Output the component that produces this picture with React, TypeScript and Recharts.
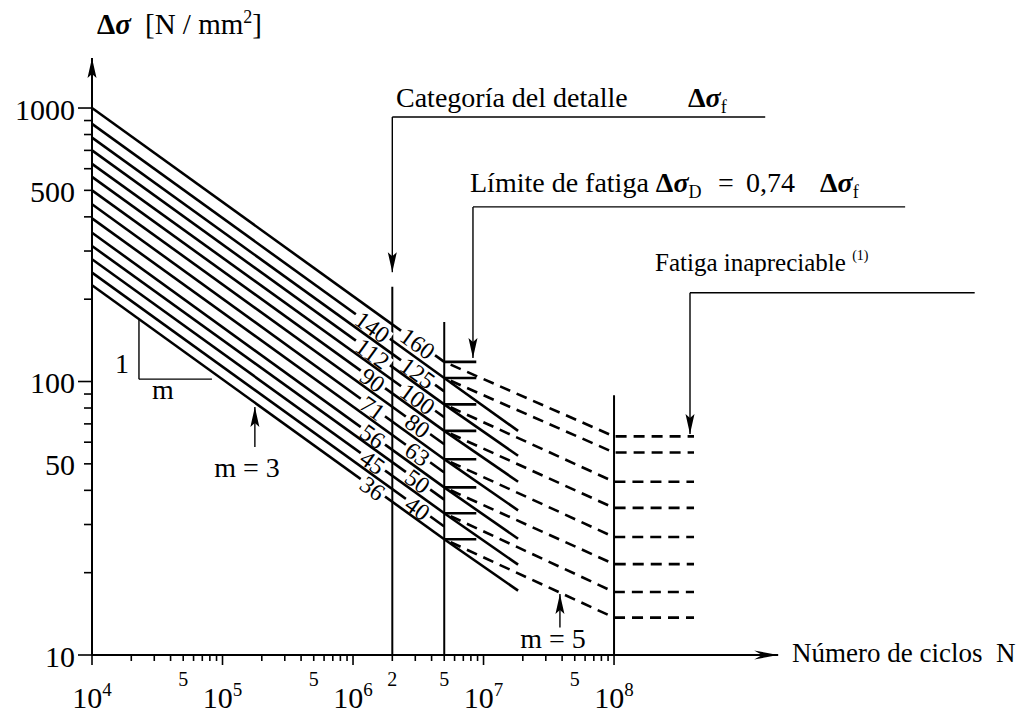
import React from 'react';
import { ComposedChart, Line, XAxis, YAxis, ReferenceLine, ReferenceDot } from 'recharts';

// ---------------- data ----------------
// detail categories (Δσ at 2·10^6 cycles)
const categories = [160, 140, 125, 112, 100, 90, 80, 71, 63, 56, 50, 45, 40, 36];
// stress range of each curve at N = 1e4
const stressAtStart = [1000, 875, 780, 700, 625, 560, 500, 445, 395, 350, 313, 280, 250, 225];
// stress range of each curve at N = 5e6 (knee)
const stressAtKnee = [118, 103, 92, 82.5, 74, 66, 59, 52, 46.5, 41, 37, 33, 29.5, 26.5];
// side of the 2e6 line where the category number is written
const labelSide = ['R', 'L', 'R', 'L', 'R', 'L', 'R', 'L', 'R', 'L', 'R', 'L', 'R', 'L'];

// curves that carry a fatigue limit step + m = 5 branch
const limitCategories = [160, 140, 112, 90, 71, 56, 45, 36];
const limitStress = [118, 103, 82.5, 66, 52, 41, 33, 26.5];
const cutoffStress = [63, 55, 43, 34.5, 27, 21.5, 17, 13.7]; // at N = 1e8

// curves continued with m = 3 past the knee
const extendedCategories = [140, 112, 90, 71, 56, 45, 36];
const extendedStart = [103, 82.5, 66, 52, 41, 33, 26.5];
const extendedEndStress = [66, 53.5, 43, 33.8, 26.6, 21.4, 17.2];

const N_START = 1e4;
const N_KNEE = 5e6;
const N_CUT = 1e8;
const N_TAIL = 4.1e8;
const N_EXT_END = 1.84e7;
const N_STEP_END = 8.8e6;
const N_LABEL_L = 1.42e6;
const N_LABEL_R = 3.15e6;

// vertical reference lines: N and top stress
const verticalN = [2e6, 5e6, 1e8];
const verticalTop = [222, 165, 89];

// axes
const X_MIN = 1e4;
const X_MAX = 1.29e11;
const Y_MIN = 10;
const Y_MAX = 2483;
const xDecades = [4, 5, 6, 7];
const xTicks: number[] = [];
xDecades.forEach((k) => { for (let m = 1; m <= 9; m++) xTicks.push(m * 10 ** k); });
xTicks.push(1e8);
const xMajor = [1e4, 1e5, 1e6, 1e7, 1e8];
const xMajorExp = ['4', '5', '6', '7', '8'];
const xMinorLabelled = [5e4, 5e5, 2e6, 5e6, 5e7];
const xMinorText = ['5', '5', '2', '5', '5'];
const yTicks: number[] = [];
[1, 2].forEach((k) => { for (let m = 1; m <= 9; m++) yTicks.push(m * 10 ** k); });
yTicks.push(1000);
const yLabelled = [10, 50, 100, 500, 1000];
const yMajor = [10, 100, 1000];

// annotations (data coordinates)
const AXIS_Y_TIP = 1524;
const AXIS_X_TIP = 1.81e9;
const detailLeader = { from: 1.44e9, at: 2e6, level: 927, tip: 251 };
const limitLeader = { from: 1.7e10, at: 8.3e6, level: 435, tip: 122 };
const negligibleLeader = { from: 5.8e10, at: 3.82e8, level: 211, tip: 64.3 };
const slopeTri = { n0: 2.29e4, n1: 8.3e4, base: 102 };
const m3Arrow = { n: 1.77e5, tail: 57.6, tip: 80.7 };
const m5Arrow = { n: 3.85e7, tail: 12.6, tip: 16.7 };

// ---------------- styles ----------------
const SERIF = "'Liberation Serif','Times New Roman',serif";
const AXIS_PX_X = 92;
const AXIS_PX_Y = 655;
const LW = 2.6;

const lineValueAt = (i: number, n: number) => {
  const l0 = Math.log10(stressAtStart[i]);
  const l1 = Math.log10(stressAtKnee[i]);
  const t = (Math.log10(n) - Math.log10(N_START)) / (Math.log10(N_KNEE) - Math.log10(N_START));
  return 10 ** (l0 + (l1 - l0) * t);
};

const arrowShape = (dir: 'up' | 'down' | 'right') => (p: any) => {
  const { cx, cy } = p;
  const L = 20, W = 4.5, notch = 4;
  let pts: number[][];
  if (dir === 'down') pts = [[cx, cy], [cx - W, cy - L], [cx, cy - L + notch], [cx + W, cy - L]];
  else if (dir === 'up') pts = [[cx, cy], [cx - W, cy + L], [cx, cy + L - notch], [cx + W, cy + L]];
  else pts = [[cx, cy], [cx - L - 4, cy - W], [cx - L + notch, cy], [cx - L - 4, cy + W]];
  return <polygon points={pts.map((q) => q.join(',')).join(' ')} fill="#000" />;
};

const labelShape = (text: number) => (p: any) => {
  const { cx, cy } = p;
  const w = String(text).length * 12 + 6;
  return (
    <g transform={`translate(${cx},${cy}) rotate(35.8)`}>
      <rect x={-w / 2} y={-6.5} width={w} height={13} fill="#fff" />
      <text x={0} y={1} textAnchor="middle" dominantBaseline="central" fontSize={24} fontFamily={SERIF} fill="#000">
        {text}
      </text>
    </g>
  );
};

const XTick = (props: any) => {
  const { x, payload } = props;
  const v = payload.value;
  const mi = xMajor.indexOf(v);
  const li = xMinorLabelled.indexOf(v);
  return (
    <g>
      <line x1={x} x2={x} y1={AXIS_PX_Y} y2={AXIS_PX_Y + (mi >= 0 ? 10 : 6)} stroke="#000" strokeWidth={1.6} />
      {mi >= 0 && (
        <text x={x} y={708} textAnchor="middle" fontSize={30} fontFamily={SERIF} fill="#000">
          10<tspan dy={-12} fontSize={19}>{xMajorExp[mi]}</tspan>
        </text>
      )}
      {li >= 0 && (
        <text x={x} y={686} textAnchor="middle" fontSize={20} fontFamily={SERIF} fill="#000">
          {xMinorText[li]}
        </text>
      )}
    </g>
  );
};

const YTick = (props: any) => {
  const { y, payload } = props;
  const v = payload.value;
  const major = yMajor.includes(v);
  return (
    <g>
      <line x1={AXIS_PX_X - (major ? 14 : 8)} x2={AXIS_PX_X} y1={y} y2={y} stroke="#000" strokeWidth={1.6} />
      {yLabelled.includes(v) && (
        <text x={75} y={y + 1} textAnchor="end" dominantBaseline="central" fontSize={30} fontFamily={SERIF} fill="#000">
          {v}
        </text>
      )}
    </g>
  );
};

const seg = (key: string, x1: number, y1: number, x2: number, y2: number, w = 1.4) => (
  <ReferenceLine
    key={key}
    segment={[{ x: x1, y: y1 }, { x: x2, y: y2 }]}
    stroke="#000"
    strokeWidth={w}
    ifOverflow="visible"
  />
);

const dot = (key: string, x: number, y: number, shape: any) => (
  <ReferenceDot key={key} x={x} y={y} r={0} ifOverflow="visible" shape={shape} />
);

export default function App() {
  const slopeTop = lineValueAt(categories.length - 1, slopeTri.n0);
  return (
    <div style={{ position: 'absolute', left: 0, top: 0, width: 1020, height: 716, background: '#fff' }}>
      <ComposedChart width={1020} height={716} margin={{ top: 0, right: 0, bottom: 0, left: 0 }}>
        <XAxis
          type="number"
          dataKey="x"
          scale="log"
          domain={[X_MIN, X_MAX]}
          allowDataOverflow
          ticks={xTicks}
          interval={0}
          tickLine={false}
          axisLine={false}
          height={61}
          tick={XTick}
        />
        <YAxis
          type="number"
          scale="log"
          domain={[Y_MIN, Y_MAX]}
          allowDataOverflow
          ticks={yTicks}
          interval={0}
          tickLine={false}
          axisLine={false}
          width={92}
          tick={YTick}
        />

        {/* axes */}
        {seg('yaxis', X_MIN, Y_MIN, X_MIN, AXIS_Y_TIP, 2)}
        {seg('xaxis', X_MIN, Y_MIN, AXIS_X_TIP, Y_MIN, 2)}
        {dot('yarrow', X_MIN, AXIS_Y_TIP, arrowShape('up'))}
        {dot('xarrow', AXIS_X_TIP, Y_MIN, arrowShape('right'))}

        {/* vertical marks */}
        {verticalN.map((n, i) => seg('v' + i, n, Y_MIN, n, verticalTop[i], 2))}

        {/* m = 3 curves */}
        {categories.map((c, i) => (
          <Line
            key={'c' + c}
            data={[{ x: N_START, y: stressAtStart[i] }, { x: N_KNEE, y: stressAtKnee[i] }]}
            dataKey="y"
            stroke="#000"
            strokeWidth={LW}
            dot={false}
            activeDot={false}
            isAnimationActive={false}
            type="linear"
          />
        ))}

        {/* continuation of m = 3 past the knee */}
        {extendedCategories.map((c, i) => (
          <Line
            key={'e' + c}
            data={[{ x: N_KNEE, y: extendedStart[i] }, { x: N_EXT_END, y: extendedEndStress[i] }]}
            dataKey="y"
            stroke="#000"
            strokeWidth={LW}
            dot={false}
            activeDot={false}
            isAnimationActive={false}
            type="linear"
          />
        ))}

        {/* fatigue limit steps */}
        {limitCategories.map((c, i) => (
          <Line
            key={'s' + c}
            data={[{ x: N_KNEE, y: limitStress[i] }, { x: N_STEP_END, y: limitStress[i] }]}
            dataKey="y"
            stroke="#000"
            strokeWidth={LW}
            dot={false}
            activeDot={false}
            isAnimationActive={false}
            type="linear"
          />
        ))}

        {/* m = 5 branch + cut-off */}
        {limitCategories.map((c, i) => (
          <Line
            key={'d' + c}
            data={[
              { x: N_KNEE, y: limitStress[i] },
              { x: N_CUT, y: cutoffStress[i] },
              { x: N_TAIL, y: cutoffStress[i] },
            ]}
            dataKey="y"
            stroke="#000"
            strokeWidth={LW}
            strokeDasharray="11 7"
            strokeDashoffset={11}
            dot={false}
            activeDot={false}
            isAnimationActive={false}
            type="linear"
          />
        ))}

        {/* category labels */}
        {categories.map((c, i) => {
          const n = labelSide[i] === 'L' ? N_LABEL_L : N_LABEL_R;
          return dot('l' + c, n, lineValueAt(i, n), labelShape(c));
        })}

        {/* slope triangle */}
        {seg('tri1', slopeTri.n0, slopeTop, slopeTri.n0, slopeTri.base)}
        {seg('tri2', slopeTri.n0, slopeTri.base, slopeTri.n1, slopeTri.base)}

        {/* slope arrows */}
        {seg('m3', m3Arrow.n, m3Arrow.tail, m3Arrow.n, m3Arrow.tip)}
        {dot('m3a', m3Arrow.n, m3Arrow.tip, arrowShape('up'))}
        {seg('m5', m5Arrow.n, m5Arrow.tail, m5Arrow.n, m5Arrow.tip)}
        {dot('m5a', m5Arrow.n, m5Arrow.tip, arrowShape('up'))}

        {/* leaders */}
        {[detailLeader, limitLeader, negligibleLeader].map((L, i) => [
          seg('lh' + i, L.from, L.level, L.at, L.level),
          seg('lv' + i, L.at, L.level, L.at, L.tip),
          dot('la' + i, L.at, L.tip, arrowShape('down')),
        ])}
      </ComposedChart>

      <svg
        width={1020}
        height={716}
        style={{ position: 'absolute', left: 0, top: 0, pointerEvents: 'none' }}
        fontFamily={SERIF}
        fill="#000"
      >
        <text x={97} y={34} fontSize={29}>
          <tspan fontWeight="bold">Δ</tspan>
          <tspan fontStyle="italic" fontWeight="bold">σ</tspan>
          <tspan x={145}>[N / mm</tspan>
          <tspan dy={-11} fontSize={18}>2</tspan>
          <tspan dy={11}>]</tspan>
        </text>
        <text x={396} y={107} fontSize={28} style={{ whiteSpace: 'pre' }}>
          {'Categoría del detalle'}
          <tspan x={688} fontWeight="bold">Δ</tspan>
          <tspan fontStyle="italic" fontWeight="bold">σ</tspan>
          <tspan dy={6} fontSize={18}>f</tspan>
        </text>
        <text x={470} y={192} fontSize={28} style={{ whiteSpace: 'pre' }}>
          {'Límite de fatiga '}
          <tspan fontWeight="bold">Δ</tspan>
          <tspan fontStyle="italic" fontWeight="bold">σ</tspan>
          <tspan dy={6} fontSize={18}>D</tspan>
          <tspan dy={-6} x={718}>=</tspan>
          <tspan x={746}>0,74</tspan>
          <tspan x={820} fontWeight="bold">Δ</tspan>
          <tspan fontStyle="italic" fontWeight="bold">σ</tspan>
          <tspan dy={6} fontSize={18}>f</tspan>
        </text>
        <text x={655} y={271} fontSize={25} style={{ whiteSpace: 'pre' }}>
          {'Fatiga inapreciable '}
          <tspan dy={-11} fontSize={14}>(1)</tspan>
        </text>
        <text x={792} y={662} fontSize={27} style={{ whiteSpace: 'pre' }}>
          {'Número de ciclos  N'}
        </text>
        <text x={122} y={373} fontSize={28} textAnchor="middle">1</text>
        <text x={163} y={399} fontSize={28} textAnchor="middle">m</text>
        <text x={247} y={477} fontSize={28} textAnchor="middle">m = 3</text>
        <text x={553} y={648} fontSize={28} textAnchor="middle">m = 5</text>
      </svg>
    </div>
  );
}
